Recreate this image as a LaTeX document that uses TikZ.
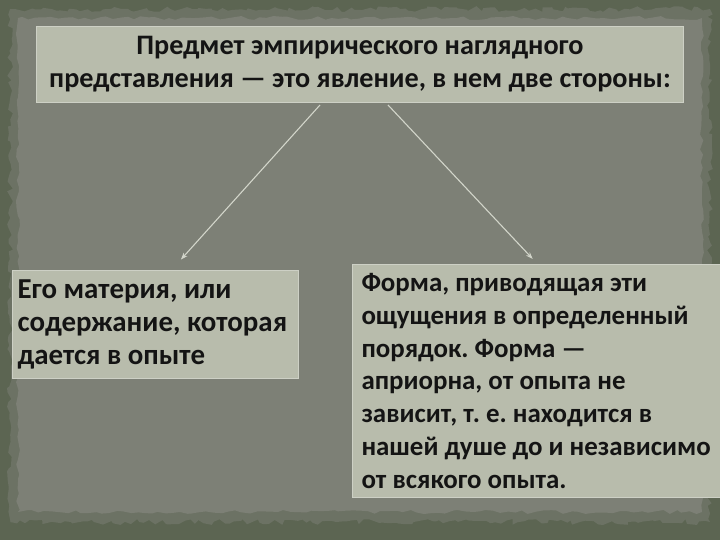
\documentclass[tikz,border=0pt]{standalone}
\usepackage{fontspec}
\setmainfont{Carlito}
\frenchspacing
\usetikzlibrary{calc,arrows.meta,decorations.pathmorphing}
\definecolor{rahmen}{RGB}{92,101,82}
\definecolor{papier}{RGB}{125,128,118}
\definecolor{papierrand}{RGB}{108,114,100}
\definecolor{kastenfarbe}{RGB}{184,188,172}
\definecolor{pfeilfarbe}{RGB}{210,213,202}
\tikzset{
	kasten/.style={fill=kastenfarbe, draw=kastenfarbe!70!white, line width=1bp, align=flush left, text=black!92,
		font=\fontsize{27}{33}\selectfont\bfseries, inner ysep=0bp},
	gross/.style={font=\fontsize{29}{33}\selectfont\bfseries}
}
\tikzset{pfeil/.style={draw=pfeilfarbe, line width=1.1bp, -{Stealth[length=7bp,width=5bp]}}}
\begin{document}
\begin{tikzpicture}[x=1bp,y=-1bp]
	\useasboundingbox (0,0) rectangle (720,540);
	\fill[rahmen] (0,0) rectangle (720,540);
	% Papier mit ausgefranstem Rand
	\pgfmathsetseed{42}
	\fill[papierrand, decorate, decoration={random steps,segment length=5bp,amplitude=3bp}] (10,9) rectangle (710,522);
	\fill[papier, decorate, decoration={random steps,segment length=7bp,amplitude=2bp}] (18,18) rectangle (702,512);
	
	% Kaesten
	\node[kasten, font=\fontsize{28.3}{33}\selectfont\bfseries, anchor=north west, minimum width=647bp, minimum height=76bp, align=center] (titel) at (36,26)
		{Предмет эмпирического наглядного\\представления — это явление, в нем две стороны:};
	\node[kasten, gross, anchor=north west, text width=276bp, inner xsep=5bp, minimum height=108bp] (materie) at (12,270)
		{Его материя, или\\содержание, которая\\дается в опыте};
	\node[kasten, anchor=north west, text width=352bp, inner xsep=9bp, minimum height=233bp] (form) at (352,264)
		{Форма, приводящая эти\\ощущения в определенный\\порядок. Форма —\\априорна, от опыта не\\зависит, т. е. находится в\\нашей душе до и независимо\\от всякого опыта.};
	
	% Pfeile
	\draw[pfeil, shorten >=14bp] ($(titel.south)+(-40,2)$) -- ($(materie.north)+(16,0)$);
	\draw[pfeil, shorten >=7bp] ($(titel.south)+(28,2)$) -- (form.north);
\end{tikzpicture}
\end{document}
